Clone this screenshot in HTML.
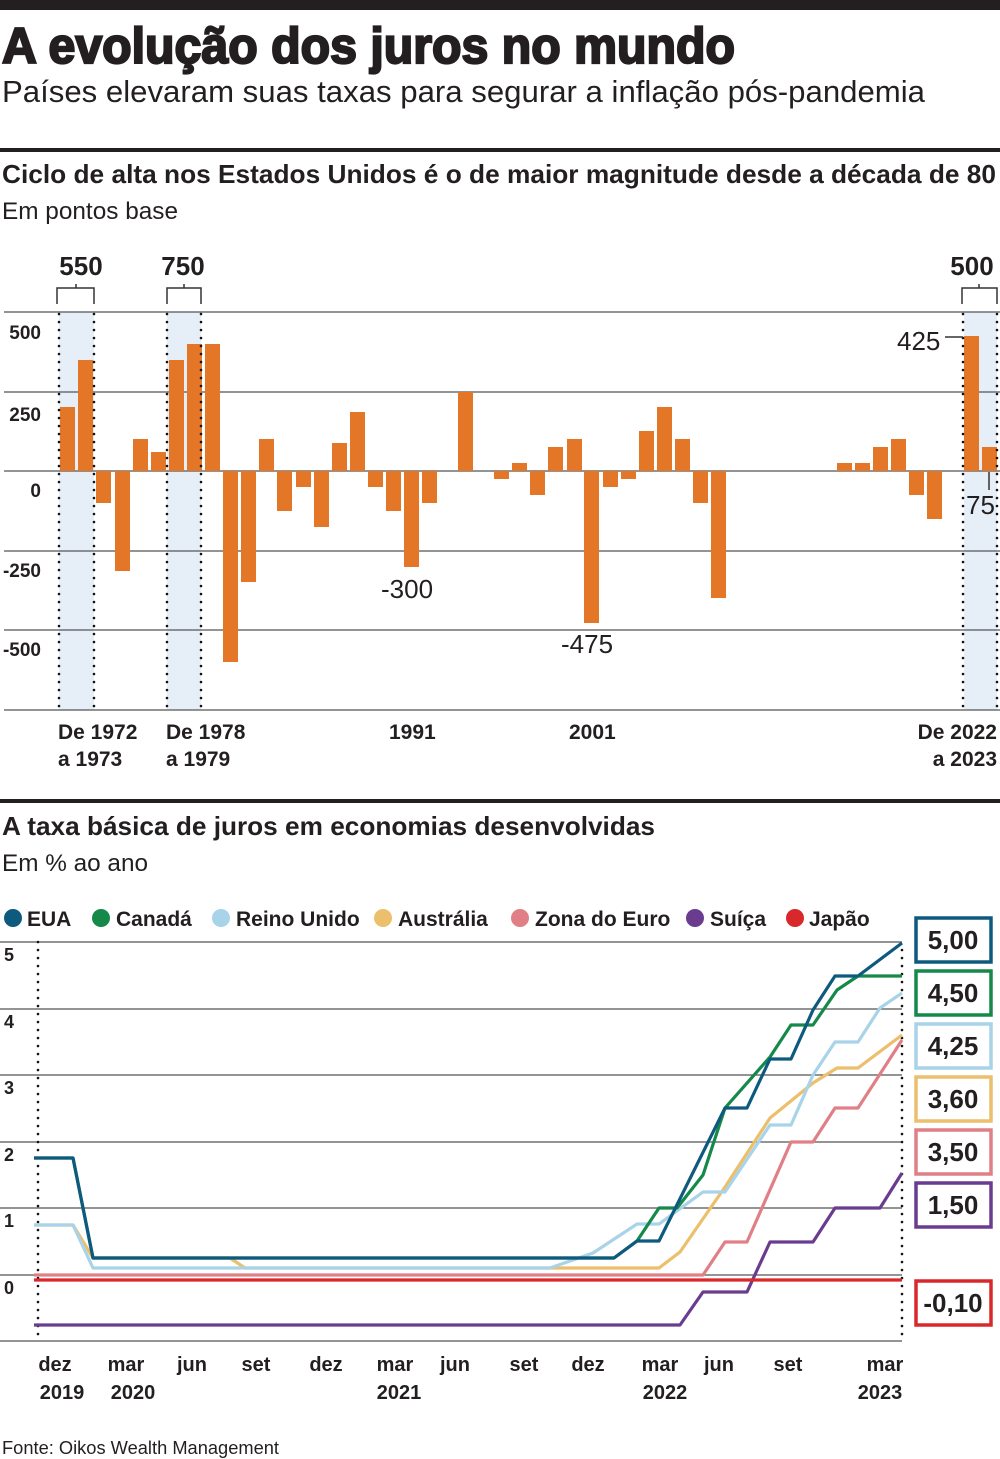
<!DOCTYPE html>
<html><head><meta charset="utf-8"><style>
html,body{margin:0;padding:0;background:#fff}
svg{display:block}
text{font-family:"Liberation Sans",sans-serif}
</style></head><body>
<svg width="1000" height="1459" viewBox="0 0 1000 1459" xmlns="http://www.w3.org/2000/svg">
<rect x="0" y="0" width="1000" height="10" fill="#231f20"/>
<text x="2" y="63" font-size="50" font-weight="bold" fill="#231f20" textLength="733" lengthAdjust="spacingAndGlyphs" stroke="#231f20" stroke-width="2.2">A evolução dos juros no mundo</text>
<text x="2" y="102" font-size="31" fill="#231f20" textLength="923" lengthAdjust="spacingAndGlyphs">Países elevaram suas taxas para segurar a inflação pós-pandemia</text>
<rect x="0" y="148" width="1000" height="4" fill="#231f20"/>
<text x="2" y="183" font-size="26" font-weight="bold" fill="#231f20" textLength="994" lengthAdjust="spacingAndGlyphs">Ciclo de alta nos Estados Unidos é o de maior magnitude desde a década de 80</text>
<text x="2" y="219" font-size="24" fill="#231f20" textLength="176" lengthAdjust="spacingAndGlyphs">Em pontos base</text>

<g fill="#e6eff7">
<rect x="59" y="312" width="35" height="398"/>
<rect x="167" y="312" width="34" height="398"/>
<rect x="964" y="312" width="33" height="398"/>
</g>
<g stroke="#555" stroke-width="1.3">
<line x1="4" y1="312" x2="1000" y2="312"/>
<line x1="4" y1="392" x2="1000" y2="392"/>
<line x1="4" y1="471" x2="1000" y2="471"/>
<line x1="4" y1="551" x2="1000" y2="551"/>
<line x1="4" y1="630" x2="1000" y2="630"/>
<line x1="4" y1="710" x2="1000" y2="710"/>
</g>
<g fill="#e37627">
<rect x="60" y="407" width="15" height="64"/>
<rect x="78" y="360" width="15" height="111"/>
<rect x="96" y="471" width="15" height="32"/>
<rect x="115" y="471" width="15" height="100"/>
<rect x="133" y="439" width="15" height="32"/>
<rect x="151" y="452" width="15" height="19"/>
<rect x="169" y="360" width="15" height="111"/>
<rect x="187" y="344" width="15" height="127"/>
<rect x="205" y="344" width="15" height="127"/>
<rect x="223" y="471" width="15" height="191"/>
<rect x="241" y="471" width="15" height="111"/>
<rect x="259" y="439" width="15" height="32"/>
<rect x="277" y="471" width="15" height="40"/>
<rect x="296" y="471" width="15" height="16"/>
<rect x="314" y="471" width="15" height="56"/>
<rect x="332" y="443" width="15" height="28"/>
<rect x="350" y="412" width="15" height="59"/>
<rect x="368" y="471" width="15" height="16"/>
<rect x="386" y="471" width="15" height="40"/>
<rect x="404" y="471" width="15" height="96"/>
<rect x="422" y="471" width="15" height="32"/>
<rect x="458" y="392" width="15" height="79"/>
<rect x="494" y="471" width="15" height="8"/>
<rect x="512" y="463" width="15" height="8"/>
<rect x="530" y="471" width="15" height="24"/>
<rect x="548" y="447" width="15" height="24"/>
<rect x="567" y="439" width="15" height="32"/>
<rect x="584" y="471" width="15" height="152"/>
<rect x="603" y="471" width="15" height="16"/>
<rect x="621" y="471" width="15" height="8"/>
<rect x="639" y="431" width="15" height="40"/>
<rect x="657" y="407" width="15" height="64"/>
<rect x="675" y="439" width="15" height="32"/>
<rect x="693" y="471" width="15" height="32"/>
<rect x="711" y="471" width="15" height="127"/>
<rect x="837" y="463" width="15" height="8"/>
<rect x="855" y="463" width="15" height="8"/>
<rect x="873" y="447" width="15" height="24"/>
<rect x="891" y="439" width="15" height="32"/>
<rect x="909" y="471" width="15" height="24"/>
<rect x="927" y="471" width="15" height="48"/>
<rect x="964" y="336" width="15" height="135"/>
<rect x="982" y="447" width="15" height="24"/>
</g>
<g stroke="#111" stroke-width="2.6" stroke-dasharray="0 8" stroke-linecap="round">
<line x1="59" y1="314" x2="59" y2="710"/>
<line x1="94" y1="314" x2="94" y2="710"/>
<line x1="167" y1="314" x2="167" y2="710"/>
<line x1="201" y1="314" x2="201" y2="710"/>
<line x1="963" y1="314" x2="963" y2="710"/>
<line x1="997" y1="314" x2="997" y2="710"/>
</g>
<g fill="none" stroke="#333" stroke-width="1.5">
<path d="M57,304 V288 H94 V304 M76,288 V284"/>
<path d="M167,304 V288 H201 V304 M184,288 V284"/>
<path d="M962,304 V288 H997 V304 M979,288 V284"/>
<path d="M945,337 H963"/>
<path d="M989,472 V490"/>
</g>
<g font-size="26" font-weight="bold" fill="#231f20" text-anchor="middle">
<text x="81" y="275">550</text>
<text x="183" y="275">750</text>
<text x="972" y="275">500</text>
</g>
<g font-size="19" font-weight="bold" fill="#231f20" text-anchor="end">
<text x="41" y="339">500</text>
<text x="41" y="421">250</text>
<text x="41" y="497">0</text>
<text x="41" y="577">-250</text>
<text x="41" y="656">-500</text>
</g>
<g font-size="26" fill="#231f20">
<text x="381" y="598">-300</text>
<text x="561" y="653">-475</text>
<text x="897" y="350">425</text>
<text x="966" y="514">75</text>
</g>
<g font-size="21" font-weight="bold" fill="#231f20">
<text x="58" y="739">De 1972</text>
<text x="58" y="766">a 1973</text>
<text x="166" y="739">De 1978</text>
<text x="166" y="766">a 1979</text>
<text x="389" y="739">1991</text>
<text x="569" y="739">2001</text>
<text x="997" y="739" text-anchor="end">De 2022</text>
<text x="997" y="766" text-anchor="end">a 2023</text>
</g>

<rect x="0" y="799" width="1000" height="4" fill="#231f20"/>
<text x="2" y="835" font-size="26" font-weight="bold" fill="#231f20" textLength="653" lengthAdjust="spacingAndGlyphs">A taxa básica de juros em economias desenvolvidas</text>
<text x="2" y="871" font-size="24" fill="#231f20" textLength="146" lengthAdjust="spacingAndGlyphs">Em % ao ano</text>

<g font-size="21" font-weight="bold" fill="#231f20">
<circle cx="13" cy="918" r="9" fill="#0e5a7f"/><text x="27" y="926">EUA</text>
<circle cx="101" cy="918" r="9" fill="#14894a"/><text x="116" y="926">Canadá</text>
<circle cx="221" cy="918" r="9" fill="#a8d3e8"/><text x="236" y="926">Reino Unido</text>
<circle cx="383" cy="918" r="9" fill="#ebbf6b"/><text x="398" y="926">Austrália</text>
<circle cx="520" cy="918" r="9" fill="#e07f86"/><text x="535" y="926">Zona do Euro</text>
<circle cx="695" cy="918" r="9" fill="#6a3c8f"/><text x="710" y="926">Suíça</text>
<circle cx="795" cy="918" r="9" fill="#d9282b"/><text x="809" y="926">Japão</text>
</g>
<g stroke="#555" stroke-width="1.3">
<line x1="0" y1="942" x2="902" y2="942"/>
<line x1="0" y1="1009" x2="902" y2="1009"/>
<line x1="0" y1="1075" x2="902" y2="1075"/>
<line x1="0" y1="1142" x2="902" y2="1142"/>
<line x1="0" y1="1208" x2="902" y2="1208"/>
<line x1="0" y1="1275" x2="902" y2="1275"/>
<line x1="0" y1="1341" x2="902" y2="1341"/>
</g>
<g font-size="18" font-weight="bold" fill="#231f20">
<text x="4" y="961">5</text><text x="4" y="1028">4</text><text x="4" y="1094">3</text>
<text x="4" y="1161">2</text><text x="4" y="1227">1</text><text x="4" y="1294">0</text>
</g>
<g stroke="#111" stroke-width="2.6" stroke-dasharray="0 8" stroke-linecap="round">
<line x1="38" y1="942" x2="38" y2="1341"/>
<line x1="902" y1="950" x2="902" y2="1341"/>
</g>
<g fill="none" stroke-width="3.2" stroke-linejoin="round">
<polyline stroke="#6a3c8f" points="34,1325 680,1325 703,1292 747,1292 770,1242 813,1242 835,1208 880,1208 902,1173"/>
<polyline stroke="#e07f86" points="34,1275 703,1275 725,1242 747,1242 791,1142 813,1142 835,1108 858,1108 902,1040"/>
<polyline stroke="#ebbf6b" points="34,1225 73,1225 93,1258 230,1258 245,1268 659,1268 680,1252 725,1187 770,1118 813,1083 837,1068 858,1068 902,1035"/>
<polyline stroke="#a8d3e8" points="34,1225 73,1225 93,1268 550,1268 593,1253 637,1224 659,1224 703,1192 725,1192 770,1125 791,1125 813,1075 835,1042 858,1042 880,1008 902,993"/>
<polyline stroke="#14894a" points="34,1158 73,1158 93,1258 614,1258 637,1241 659,1208 677,1208 703,1175 725,1108 770,1057 791,1025 813,1025 837,990 858,976 902,976"/>
<polyline stroke="#0e5a7f" points="34,1158 73,1158 93,1258 614,1258 637,1241 659,1241 725,1108 747,1108 770,1059 791,1059 813,1010 835,976 858,976 902,943"/>
<polyline stroke="#d9282b" points="34,1280 902,1280"/>
</g>
<g fill="#fff" stroke-width="3.5">
<rect x="916" y="918" width="75" height="44" stroke="#0e5a7f"/>
<rect x="916" y="971" width="75" height="44" stroke="#14894a"/>
<rect x="916" y="1024" width="75" height="44" stroke="#a8d3e8"/>
<rect x="916" y="1077" width="75" height="44" stroke="#ebbf6b"/>
<rect x="916" y="1130" width="75" height="44" stroke="#e07f86"/>
<rect x="916" y="1183" width="75" height="44" stroke="#6a3c8f"/>
<rect x="916" y="1281" width="75" height="44" stroke="#d9282b"/>
</g>
<g font-size="26" font-weight="bold" fill="#231f20" text-anchor="middle">
<text x="953" y="949">5,00</text>
<text x="953" y="1002">4,50</text>
<text x="953" y="1055">4,25</text>
<text x="953" y="1108">3,60</text>
<text x="953" y="1161">3,50</text>
<text x="953" y="1214">1,50</text>
<text x="953" y="1312">-0,10</text>
</g>
<g font-size="20" font-weight="bold" fill="#231f20" text-anchor="middle">
<text x="55" y="1371">dez</text><text x="62" y="1399">2019</text>
<text x="126" y="1371">mar</text><text x="133" y="1399">2020</text>
<text x="192" y="1371">jun</text>
<text x="256" y="1371">set</text>
<text x="326" y="1371">dez</text>
<text x="395" y="1371">mar</text><text x="399" y="1399">2021</text>
<text x="455" y="1371">jun</text>
<text x="524" y="1371">set</text>
<text x="588" y="1371">dez</text>
<text x="660" y="1371">mar</text><text x="665" y="1399">2022</text>
<text x="719" y="1371">jun</text>
<text x="788" y="1371">set</text>
<text x="885" y="1371">mar</text><text x="880" y="1399">2023</text>
</g>
<text x="2" y="1454" font-size="18" fill="#231f20" textLength="277" lengthAdjust="spacingAndGlyphs">Fonte: Oikos Wealth Management</text>
</svg>
</body></html>
